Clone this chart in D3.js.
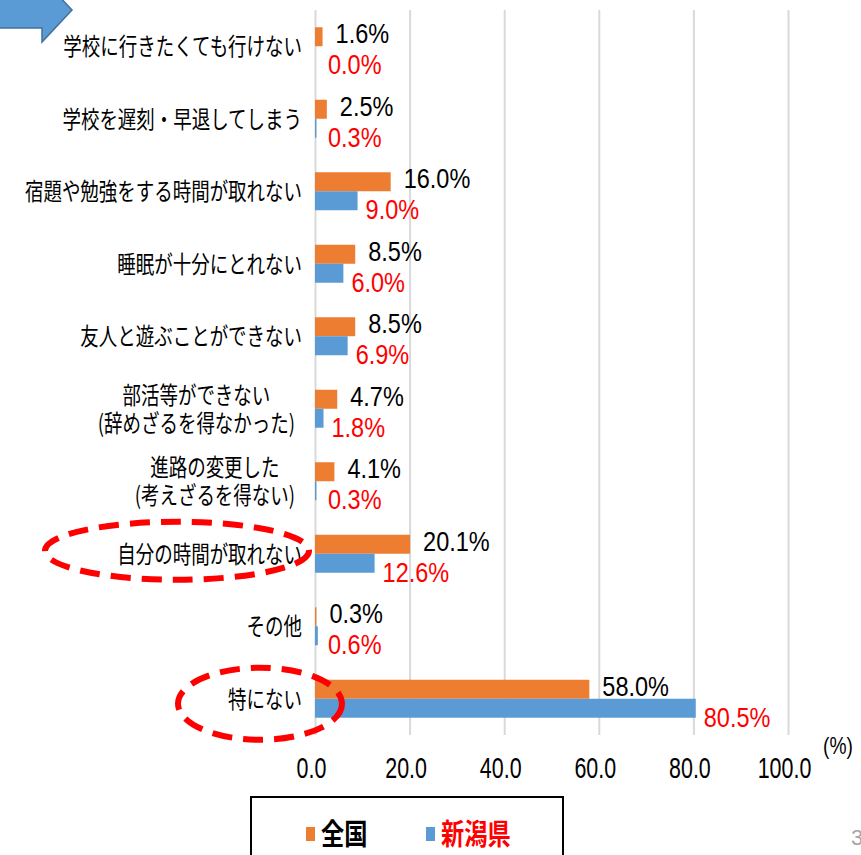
<!DOCTYPE html>
<html>
<head>
<meta charset="utf-8">
<script src="https://cdn.jsdelivr.net/npm/d3@7"></script>
<style>
  body { margin: 0; background: #fff; }
  svg { display: block; }
</style>
</head>
<body>
<div id="chart"></div>
<script>

//~~~~~~~~~~~~~~~~~~DATA SET

let categories = [
  ['学校に行きたくても行けない'],
  ['学校を遅刻・早退してしまう'],
  ['宿題や勉強をする時間が取れない'],
  ['睡眠が十分にとれない'],
  ['友人と遊ぶことができない'],
  ['部活等ができない', '(辞めざるを得なかった)'],
  ['進路の変更した', '(考えざるを得ない)'],
  ['自分の時間が取れない'],
  ['その他'],
  ['特にない']
];

let seriesNames = ['全国', '新潟県'];
let zenkoku = [1.6, 2.5, 16.0, 8.5, 8.5, 4.7, 4.1, 20.1, 0.3, 58.0];
let niigata = [0.0, 0.3, 9.0, 6.0, 6.9, 1.8, 0.3, 12.6, 0.6, 80.5];

let xTicks = [0, 20, 40, 60, 80, 100];

//categories circled in red in the original slide
let circled = ['自分の時間が取れない', '特にない'];


//~~~~~~~~~~~~~~~~~~VARIABLES

let width = 861;
let height = 855;

let colors = ['#ed7d31', '#5b9bd5'];
let labelColors = ['#000000', '#ff0000'];

let sans = '"Liberation Sans", Arial, sans-serif';
let jp = '"Noto Sans CJK JP", sans-serif';

let svg = d3.select('#chart')
  .append('svg')
  .attr('width', width)
  .attr('height', height);

let x = d3.scaleLinear()
  .domain([0, 100])
  .range([315, 788]);

let y = d3.scaleBand()
  .domain(d3.range(categories.length))
  .range([10, 735])
  .paddingInner(0.476)
  .paddingOuter(0.238);

//orange bar on top, blue bar underneath
let ySub = d3.scaleBand()
  .domain([0, 1])
  .range([0, y.bandwidth()]);

//narrow text helper: the slide fonts are squeezed sideways
function addText (parent, px, py, str, opts) {
  let g = parent.append('g')
    .attr('transform', 'translate(' + px + ',' + py + ') scale(' + (opts.sx || 1) + ',1)');
  let t = g.append('text')
    .attr('text-anchor', opts.anchor || 'start')
    .attr('font-family', opts.font || sans)
    .attr('font-size', opts.size)
    .attr('font-weight', opts.weight || 'normal')
    .attr('fill', opts.fill || '#000')
    .text(str);
  return t;
}


//~~~~~~~~~~~~~~~~~~ARROW (top left corner of the slide)

let arrow = d3.line()([[-10, -8], [42, -8], [42, -22], [72, 10], [42, 42], [42, 28], [-10, 28]]);
svg.append('path')
  .attr('d', arrow + 'Z')
  .attr('fill', '#5b9bd5')
  .attr('stroke', '#41719c')
  .attr('stroke-width', 1.5);


//~~~~~~~~~~~~~~~~~~GRIDLINES + X AXIS

let gAxis = svg.append('g')
  .attr('transform', 'translate(0,735)')
  .call(d3.axisBottom(x)
    .tickValues(xTicks)
    .tickSize(-725)
    .tickFormat(d3.format('.1f')));

gAxis.select('.domain').remove();

gAxis.selectAll('line')
  .attr('stroke', '#d9d9d9')
  .attr('stroke-width', 2);

gAxis.selectAll('text')
  .attr('y', 43)
  .attr('dy', null)
  .attr('fill', '#000')
  .attr('font-family', sans)
  .attr('font-size', 29)
  .attr('transform', 'translate(-4,0) scale(0.74,1)');

//unit
addText(svg, 838, 754, '(%)', { size: 24, sx: 0.8, anchor: 'middle' });


//~~~~~~~~~~~~~~~~~~BARS

let series = [zenkoku, niigata];

series.forEach(function(values, s) {
  svg.append('g')
    .selectAll('rect')
    .data(values)
    .enter()
    .append('rect')
    .attr('x', x(0))
    .attr('y', function(d, i) { return y(i) + ySub(s); })
    .attr('width', function(d) { return x(d) - x(0); })
    .attr('height', ySub.bandwidth())
    .attr('fill', colors[s]);
});


//~~~~~~~~~~~~~~~~~~DATA LABELS

let gLabels = svg.append('g');

series.forEach(function(values, s) {
  values.forEach(function(d, i) {
    let center = y(i) + y.bandwidth() / 2;
    //black label sits above-right of the orange bar, red one below-right of the blue bar
    let lx = s === 0 ? x(d) + 13 : Math.max(x(d) + 8, 328);
    let ly = s === 0 ? center - 13 + 10 : center + 18 + 10;
    addText(gLabels, lx, ly, d.toFixed(1) + '%', {
      size: 28,
      sx: 0.84,
      fill: labelColors[s]
    });
  });
});


//~~~~~~~~~~~~~~~~~~CATEGORY LABELS

let gCats = svg.append('g');

categories.forEach(function(lines, i) {
  let center = y(i) + y.bandwidth() / 2;
  if (lines.length === 1) {
    addText(gCats, 302, center + 9, lines[0], { font: jp, size: 24, sx: 0.77, anchor: 'end' });
  } else {
    //multi-line labels are centred as a block against the axis
    let t = addText(gCats, 0, center - 14 + 9, '', { font: jp, size: 24, sx: 0.77, anchor: 'middle' });
    t.selectAll('tspan')
      .data(lines)
      .enter()
      .append('tspan')
      .attr('x', 0)
      .attr('dy', function(d, k) { return k === 0 ? 0 : 28; })
      .text(function(d) { return d; });
    let maxW = d3.max(t.selectAll('tspan').nodes(), function(n) { return n.getComputedTextLength() * 0.77; });
    d3.select(t.node().parentNode)
      .attr('transform', 'translate(' + (295 - maxW / 2) + ',' + (center - 5) + ') scale(0.77,1)');
  }
});


//~~~~~~~~~~~~~~~~~~RED DASHED CIRCLES

let gRings = svg.append('g');

//ring size per circled label [offset left of the axis, rx, ry, dy]
let ringShape = { 7: [138, 132, 29, -3], 9: [55, 82, 36, 5] };

circled.forEach(function(name) {
  let i = categories.findIndex(function(c) { return c[0] === name; });
  let center = y(i) + y.bandwidth() / 2;
  let r = ringShape[i];
  gRings.append('ellipse')
    .attr('cx', x(0) - r[0])
    .attr('cy', center + r[3])
    .attr('rx', r[1])
    .attr('ry', r[2])
    .attr('fill', 'none')
    .attr('stroke', '#ff0000')
    .attr('stroke-width', 6)
    .attr('stroke-dasharray', '20 11');
});


//~~~~~~~~~~~~~~~~~~LEGEND

let legend = svg.append('g');

legend.append('rect')
  .attr('x', 251)
  .attr('y', 797)
  .attr('width', 312)
  .attr('height', 80)
  .attr('fill', '#fff')
  .attr('stroke', '#000')
  .attr('stroke-width', 2);

let legendX = [306, 426];

seriesNames.forEach(function(name, s) {
  legend.append('rect')
    .attr('x', legendX[s])
    .attr('y', 827)
    .attr('width', 9)
    .attr('height', 14)
    .attr('fill', colors[s]);
  addText(legend, legendX[s] + 15, 845, name, {
    font: jp,
    size: 29,
    sx: 0.8,
    weight: 'bold',
    fill: labelColors[s]
  });
});

//page number peeking in at the right edge
addText(svg, 851, 845, '3', { size: 22, fill: '#a6a6a6' });

</script>
</body>
</html>
